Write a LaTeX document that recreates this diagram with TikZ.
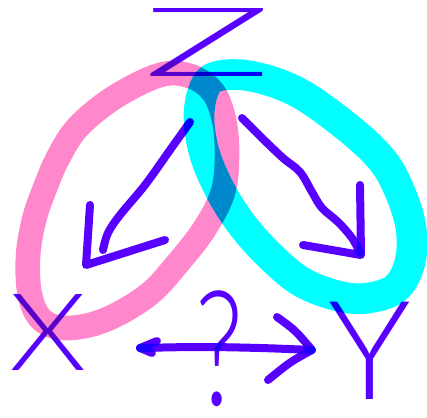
\documentclass[tikz,border=0pt]{standalone}
\usepackage{fontspec}
\setmainfont{Liberation Sans}
\newfontfamily\handfont{Lato Light}
\usepackage{graphicx}
\definecolor{pinkring}{RGB}{255,136,204}
\definecolor{cyanring}{RGB}{0,255,255}
\definecolor{ink}{RGB}{88,0,255}
\tikzset{
  ring/.style={line width=#1, line join=round},
  inkline/.style={draw=ink, line width=6pt, line cap=round, line join=round},
  letter/.style={text=ink, inner sep=0pt, outer sep=0pt, font=\handfont},
}
\begin{document}
\begin{tikzpicture}[x=0.75pt,y=-0.75pt]
\useasboundingbox (0,0) rectangle (427,417);
\fill[white] (0,0) rectangle (427,417);
\begin{scope}[blend mode=multiply]
% rings
\draw[ring=18.5pt, pinkring] plot[smooth cycle, tension=0.6] coordinates {
 (160,75) (190,76) (213,92) (224,120) (227,155) (223,192) (205,228) (178,263)
 (148,295) (105,320) (67,328) (42,320) (30,295) (28,257) (34,220) (45,188)
 (58,158) (78,127) (115,97)};
\draw[ring=23pt, cyanring] plot[smooth cycle, tension=0.6] coordinates {
 (215,77) (250,76) (297,92) (347,127) (382,160) (400,192) (411,228) (410,262)
 (396,288) (368,298) (338,296) (300,281) (266,252) (240,222) (220,190) (205,155)
 (199,120) (203,92)};
% letters
\node[letter] (Z) at (208,42) {\resizebox{96pt}{51pt}{Z}};
\node[letter] (X) at (48,332) {\resizebox{58pt}{57pt}{X}};
\node[letter] (Y) at (370,351) {\resizebox{62pt}{73pt}{Y}};
\node[letter] (Q) at (220,349) {\resizebox{36pt}{86pt}{?}};
% connector end points
\coordinate (zx0) at (190,122);
\coordinate (zx1) at (103,250);
\coordinate (zxtip) at (86,265);
\coordinate (zy0) at (242,118);
\coordinate (zy1) at (360,253);
\coordinate (zytip) at (361,255);
\coordinate (xyL) at (140,348);
\coordinate (xyR) at (312,350);
% Z -> X
\draw[inkline] plot[smooth, tension=0.6] coordinates {(zx0) (170,150) (145,185) (120,215) (108,233) (zx1)};
\draw[inkline] (90,205) -- (zxtip) -- (165,240);
% Z -> Y
\draw[inkline] plot[smooth, tension=0.6] coordinates {(zy0) (262,138) (283,158) (300,172) (312,192) (322,208) (338,222) (352,238) (zy1)};
\draw[inkline] (360,185) -- (zytip) -- (303,245);
% X <-> Y
\draw[inkline] plot[smooth, tension=0.6] coordinates {(xyL) (200,347) (260,348) (xyR)};
\draw[inkline] (157,341) -- (xyL) -- (152,353);
\draw[inkline] (277,317) .. controls (295,330) .. (xyR) .. controls (290,362) .. (268,380);
\end{scope}
\end{tikzpicture}
\end{document}
